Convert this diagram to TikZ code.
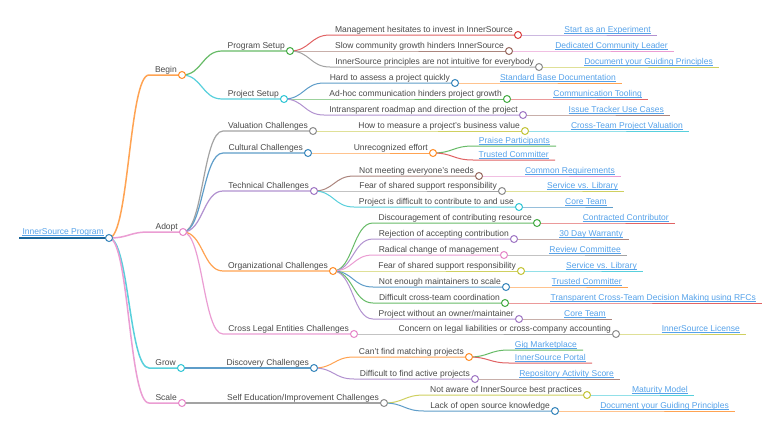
\documentclass[tikz,border=0pt]{standalone}
\usepackage{fontspec}
\setmainfont{Liberation Sans}
\usetikzlibrary{calc}
\definecolor{cblue}{HTML}{1F77B4}
\definecolor{corange}{HTML}{FF7F0E}
\definecolor{cgreen}{HTML}{2CA02C}
\definecolor{cred}{HTML}{D62728}
\definecolor{cpurple}{HTML}{9467BD}
\definecolor{cbrown}{HTML}{8C564B}
\definecolor{cpink}{HTML}{E377C2}
\definecolor{cgray}{HTML}{7F7F7F}
\definecolor{colive}{HTML}{BCBD22}
\definecolor{ccyan}{HTML}{17BECF}
\definecolor{txt}{HTML}{4A4A4A}
\definecolor{lnk}{HTML}{55A2EA}
\pgfdeclarelayer{bgfill}
\pgfdeclarelayer{lines}
\pgfsetlayers{bgfill,lines,main}
\tikzset{
  circ/.style={circle, fill=white, line width=1pt, minimum size=7pt, inner sep=0pt},
  lbl/.style={inner sep=0pt, font=\fontsize{8.5}{10}\selectfont, text=txt},
  lnklbl/.style={inner sep=0pt, font=\fontsize{8.5}{10}\selectfont, text=lnk},
  ul/.style={draw=lnk, line width=0.6pt}
}
% name, parent, color, y, end x, text, line width
\newcommand\mmnode[7]{%
  \path (c#2.center) ++(40,0) coordinate (q#1);
  \coordinate (s#1) at (q#1 |- 0,#4);
  \node[circ, draw=#3!90] (c#1) at (#5,#4) {};
  \node[lbl, anchor=base east] (t#1) at (#5-5,#4-3) {#6};
  \begin{pgfonlayer}{lines}
  \draw[#3!72, line width=#7] (c#2.center) .. controls ($(c#2.center)+(20,0)$) and ($(s#1)+(-20,0)$) .. (s#1) -- (c#1.center);
  \end{pgfonlayer}
}
% name, parent, color, y, end x, text
\newcommand\mmleaf[6]{%
  \path (c#2.center) ++(40,0) coordinate (q#1);
  \coordinate (s#1) at (q#1 |- 0,#4);
  \coordinate (e#1) at (#5,#4);
  \node[lnklbl, anchor=base east] (t#1) at (#5-6,#4-3) {#6};
  \draw[ul] ([yshift=-1.3pt]t#1.base west) -- ([yshift=-1.3pt]t#1.base east);
  \begin{pgfonlayer}{lines}
  \draw[#3!72, line width=1pt] (c#2.center) .. controls ($(c#2.center)+(20,0)$) and ($(s#1)+(-20,0)$) .. (s#1) -- (e#1);
  \end{pgfonlayer}
}
\begin{document}
\begin{tikzpicture}[x=1pt,y=-1pt]
\begin{pgfonlayer}{bgfill}
\fill[white] (0,0) rectangle (780,440);
\end{pgfonlayer}
\useasboundingbox (0,0) rectangle (780,440);
% root
\coordinate (sroot) at (19,238);
\node[circ, draw=cblue!90] (croot) at (109,238) {};
\node[lnklbl, anchor=base east] (troot) at (104,234) {InnerSource Program};
\draw[ul] ([yshift=-1.3pt]troot.base west) -- ([yshift=-1.3pt]troot.base east);
\begin{pgfonlayer}{lines}
\draw[cblue!85!black, line width=2.5pt] (sroot) -- (croot.center);
\end{pgfonlayer}
% level 1
\mmnode{begin}{root}{corange}{75}{182}{Begin}{1.5pt}
\mmnode{adopt}{root}{cpink}{232}{183}{Adopt}{1.5pt}
\mmnode{grow}{root}{ccyan}{368}{181}{Grow}{1.5pt}
\mmnode{scale}{root}{cpink}{403}{182}{Scale}{1.5pt}
% Begin
\mmnode{prog}{begin}{cgreen}{51}{290}{Program Setup}{1.2pt}
\mmnode{proj}{begin}{ccyan}{99}{284}{Project Setup}{1.2pt}
\mmnode{m1}{prog}{cred}{35}{518}{Management hesitates to invest in InnerSource}{1pt}
\mmnode{m2}{prog}{cbrown}{51}{509}{Slow community growth hinders InnerSource}{1pt}
\mmnode{m3}{prog}{cgray}{67}{539}{InnerSource principles are not intuitive for everybody}{1pt}
\mmleaf{l1}{m1}{cpurple}{35}{657}{Start as an Experiment}
\mmleaf{l2}{m2}{cpink}{51}{674}{Dedicated Community Leader}
\mmleaf{l3}{m3}{colive}{67}{719}{Document your Guiding Principles}
\mmnode{p1}{proj}{cblue}{83}{455}{Hard to assess a project quickly}{1pt}
\mmnode{p2}{proj}{cgreen}{99}{507}{Ad-hoc communication hinders project growth}{1pt}
\mmnode{p3}{proj}{cpurple}{115}{523}{Intransparent roadmap and direction of the project}{1pt}
\mmleaf{pl1}{p1}{corange}{83}{622}{Standard Base Documentation}
\mmleaf{pl2}{p2}{cred}{99}{648}{Communication Tooling}
\mmleaf{pl3}{p3}{cbrown}{115}{670}{Issue Tracker Use Cases}
% Adopt
\mmnode{val}{adopt}{cgray}{131}{313}{Valuation Challenges}{1.2pt}
\mmnode{cul}{adopt}{cblue}{153}{308}{Cultural Challenges}{1.2pt}
\mmnode{tec}{adopt}{cpurple}{191}{314}{Technical Challenges}{1.2pt}
\mmnode{org}{adopt}{corange}{271}{333}{Organizational Challenges}{1.2pt}
\mmnode{cle}{adopt}{cpink}{334}{354}{Cross Legal Entities Challenges}{1.2pt}
\mmnode{v1}{val}{colive}{131}{525}{How to measure a project's business value}{1pt}
\mmleaf{vl1}{v1}{ccyan}{131}{689}{Cross-Team Project Valuation}
\mmnode{c1}{cul}{corange}{153}{433}{Unrecognized effort}{1pt}
\mmleaf{cl1}{c1}{cgreen}{146}{556}{Praise Participants}
\mmleaf{cl2}{c1}{cred}{160}{555}{Trusted Committer}
\mmnode{t1}{tec}{cbrown}{176}{479}{Not meeting everyone's needs}{1pt}
\mmnode{t2}{tec}{cgray}{191}{502}{Fear of shared support responsibility}{1pt}
\mmnode{t3}{tec}{ccyan}{207}{519}{Project is difficult to contribute to and use}{1pt}
\mmleaf{tl1}{t1}{cpink}{176}{621}{Common Requirements}
\mmleaf{tl2}{t2}{colive}{191}{624}{Service vs. Library}
\mmleaf{tl3}{t3}{cblue}{207}{613}{Core Team}
\mmnode{o1}{org}{cgreen}{223}{537}{Discouragement of contributing resource}{1pt}
\mmnode{o2}{org}{cpurple}{239}{514}{Rejection of accepting contribution}{1pt}
\mmnode{o3}{org}{cpink}{255}{504}{Radical change of management}{1pt}
\mmnode{o4}{org}{colive}{271}{521}{Fear of shared support responsibility}{1pt}
\mmnode{o5}{org}{cblue}{287}{506}{Not enough maintainers to scale}{1pt}
\mmnode{o6}{org}{cgreen}{303}{505}{Difficult cross-team coordination}{1pt}
\mmnode{o7}{org}{cpurple}{319}{519}{Project without an owner/maintainer}{1pt}
\mmleaf{ol1}{o1}{cred}{223}{675}{Contracted Contributor}
\mmleaf{ol2}{o2}{cbrown}{239}{629}{30 Day Warranty}
\mmleaf{ol3}{o3}{cgray}{255}{627}{Review Committee}
\mmleaf{ol4}{o4}{ccyan}{271}{643}{Service vs. Library}
\mmleaf{ol5}{o5}{corange}{287}{628}{Trusted Committer}
\mmleaf{ol6}{o6}{cred}{303}{762}{Transparent Cross-Team Decision Making using RFCs}
\mmleaf{ol7}{o7}{cbrown}{319}{612}{Core Team}
\mmnode{x1}{cle}{cgray}{334}{616}{Concern on legal liabilities or cross-company accounting}{1pt}
\mmleaf{xl1}{x1}{colive}{334}{746}{InnerSource License}
% Grow
\mmnode{dis}{grow}{cblue}{368}{314}{Discovery Challenges}{1.2pt}
\mmnode{d1}{dis}{corange}{357}{469}{Can't find matching projects}{1pt}
\mmnode{d2}{dis}{cpurple}{379}{475}{Difficult to find active projects}{1pt}
\mmleaf{dl1}{d1}{cgreen}{350}{583}{Gig Marketplace}
\mmleaf{dl2}{d1}{cred}{363}{592}{InnerSource Portal}
\mmleaf{dl3}{d2}{cbrown}{379}{620}{Repository Activity Score}
% Scale
\mmnode{sed}{scale}{cgray}{403}{384}{Self Education/Improvement Challenges}{1.2pt}
\mmnode{s1}{sed}{colive}{395}{587}{Not aware of InnerSource best practices}{1pt}
\mmnode{s2}{sed}{cblue}{411}{555}{Lack of open source knowledge}{1pt}
\mmleaf{sl1}{s1}{ccyan}{395}{694}{Maturity Model}
\mmleaf{sl2}{s2}{corange}{411}{735}{Document your Guiding Principles}
\end{tikzpicture}
\end{document}
